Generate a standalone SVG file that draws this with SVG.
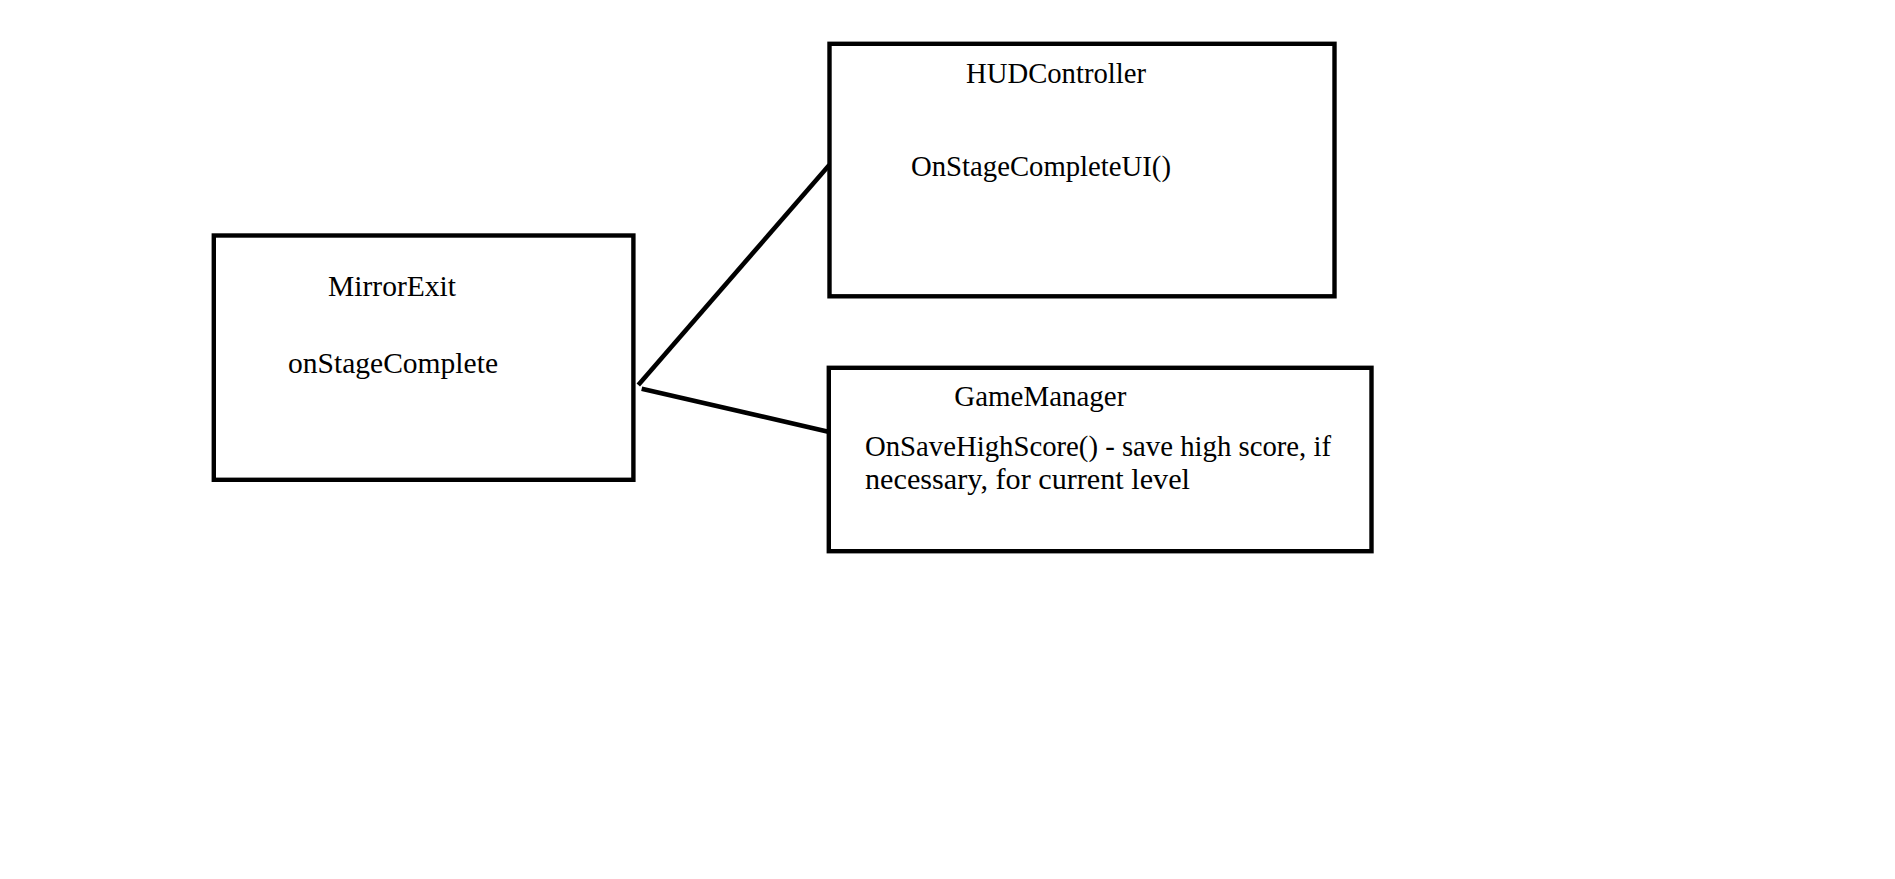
<svg xmlns="http://www.w3.org/2000/svg" width="1895" height="879" viewBox="0 0 1895 879">
<style>
.box{fill:#fff;stroke:#000;stroke-width:4.4}
.t{font-family:"Liberation Serif","DejaVu Serif",serif;font-size:29px;fill:#000}
.c{stroke:#000;stroke-width:4.6;fill:none}
</style>
<rect width="1895" height="879" fill="#fff"/>
<g id="connectors">
<line class="c" x1="638.3" y1="385" x2="829.3" y2="165"/>
<line class="c" x1="641.7" y1="388.7" x2="828.3" y2="431.7"/>
</g>
<g id="mirrorexit">
<rect class="box" x="213.8" y="235.5" width="419.6" height="244.3"/>
<text class="t" x="328" y="296" textLength="128" lengthAdjust="spacingAndGlyphs">MirrorExit</text>
<text class="t" x="288" y="373" textLength="210" lengthAdjust="spacingAndGlyphs">onStageComplete</text>
</g>
<g id="hudcontroller">
<rect class="box" x="829.5" y="43.8" width="505" height="252.5"/>
<text class="t" x="966" y="82.7" textLength="180" lengthAdjust="spacingAndGlyphs">HUDController</text>
<text class="t" x="911" y="175.7" textLength="260" lengthAdjust="spacingAndGlyphs">OnStageCompleteUI()</text>
</g>
<g id="gamemanager">
<rect class="box" x="828.8" y="367.8" width="542.7" height="183.4"/>
<text class="t" x="954.3" y="405.7" textLength="172" lengthAdjust="spacingAndGlyphs">GameManager</text>
<text class="t" x="865" y="455.7" textLength="466" lengthAdjust="spacingAndGlyphs">OnSaveHighScore() - save high score, if</text>
<text class="t" x="865" y="488.5" textLength="325" lengthAdjust="spacingAndGlyphs">necessary, for current level</text>
</g>
</svg>
